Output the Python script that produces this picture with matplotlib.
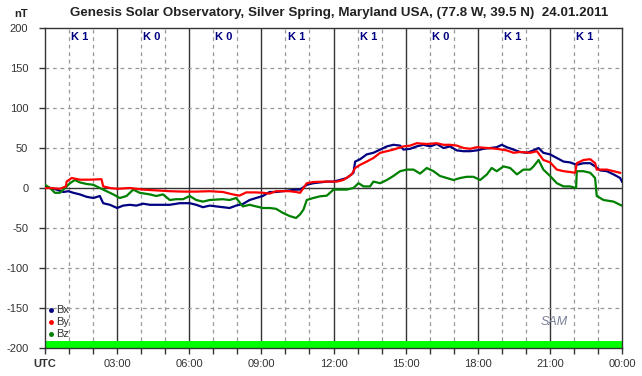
import matplotlib
matplotlib.use("Agg")
import matplotlib.pyplot as plt
import numpy as np

plt.rcParams['font.family'] = ['Liberation Sans', 'DejaVu Sans']

# ---- data (hours UTC, nT) ----
bx_t = [0, 0.21, 0.48, 0.76, 0.97, 1.18, 1.45, 1.73, 2.01, 2.28, 2.42, 2.70, 3.0, 3.25, 3.53, 3.80,
        4.08, 4.36, 4.63, 4.91, 5.19, 5.60, 6.02, 6.29, 6.57, 6.85, 7.12, 7.40, 7.68, 7.95, 8.23,
        8.51, 8.78, 9.06, 9.34, 9.61, 9.89, 10.17, 10.44,
        10.61, 10.89, 11.16, 11.44, 11.72, 12.0, 12.27, 12.55, 12.83, 12.90, 13.11, 13.38, 13.66,
        13.94, 14.22, 14.49, 14.77, 14.91, 15.19, 15.46, 15.74, 16.02, 16.30, 16.57, 16.85, 17.13,
        17.41, 17.68, 17.96, 18.24, 18.52, 18.79, 19.0, 19.21, 19.49, 19.76, 20.04, 20.32, 20.53,
        20.73, 21.01, 21.29, 21.57, 21.84, 22.12, 22.40, 22.68, 22.88, 23.09, 23.37, 23.65, 23.92, 24.0]
bx_v = [2, 0, -2, -5, -4, -6, -8, -11, -12.5, -10, -19, -21, -25, -22, -21, -22,
        -19.6, -21, -21, -21, -21, -19, -19, -21, -24, -22, -23, -24, -25, -22, -20,
        -15, -12.5, -10, -5, -5, -4, -3, -2,
        -2, 4, 6, 7, 8, 8, 10, 12.5, 19, 33, 36, 42, 44,
        48, 52, 54, 53, 48, 49, 52, 54, 52, 55, 50, 52, 47,
        46, 46, 47, 49, 50, 51, 54, 51, 48, 45, 44, 47, 50,
        44, 42, 37.5, 33, 32, 29, 31, 31, 27, 22, 21, 17, 12.5, 8]

by_t = [0, 0.21, 0.62, 0.87, 0.90, 1.11, 1.45, 1.87, 2.35, 2.42, 2.70, 3.0, 3.53, 4.08, 4.63,
        5.19, 5.74, 6.29, 6.85, 7.40, 7.81, 8.09, 8.37, 8.78, 9.06, 9.34, 9.61, 10.17, 10.44,
        10.61, 10.89, 11.16, 11.72, 12.14, 12.41, 12.76, 12.90, 13.11, 13.38, 13.66, 13.94,
        14.22, 14.49, 14.91, 15.19, 15.46, 15.88, 16.30, 16.57, 16.85, 17.13, 17.41, 17.68,
        17.96, 18.38, 18.79, 19.21, 19.49, 19.76, 20.18, 20.46, 20.73, 21.01, 21.29, 21.57,
        21.84, 22.05, 22.12, 22.40, 22.68, 22.88, 22.95, 23.37, 23.65, 23.92]
by_v = [0, 0, -1, 2, 8, 12.5, 10.4, 10.4, 11, 2, 0, -1, 0, -2, -3,
        -4, -4.5, -4.5, -4, -5, -8, -9.5, -5.5, -5.5, -6, -7, -4, -4, -5,
        -6, 6, 7.5, 8, 8, 10, 17, 25, 29, 33, 37.5, 44,
        46, 48, 52, 53, 56, 55, 56, 54, 54, 53, 50, 49,
        51, 50, 49, 47, 44, 45, 44, 46, 35, 32, 23, 21,
        20, 19, 31, 35, 36, 31, 23, 23, 21, 19]

bz_t = [0, 0.21, 0.41, 0.62, 0.76, 0.90, 1.04, 1.24, 1.45, 1.73, 2.01, 2.28, 2.56, 2.84, 3.11,
        3.39, 3.67, 3.94, 4.36, 4.63, 4.91, 5.19, 5.46, 5.74, 6.02, 6.29, 6.57, 6.85, 7.12,
        7.40, 7.68, 7.95, 8.23, 8.51, 8.78, 9.06, 9.34, 9.61, 9.89, 10.17, 10.44,
        10.61, 10.75, 10.89, 11.16, 11.44, 11.72, 12.0, 12.27, 12.55, 12.83, 13.04, 13.25,
        13.52, 13.66, 13.94, 14.22, 14.49, 14.77, 15.05, 15.33, 15.60, 15.88, 16.16, 16.43,
        16.71, 16.99, 17.27, 17.54, 17.82, 18.10, 18.38, 18.58, 18.79, 19.07, 19.35, 19.63,
        19.90, 20.18, 20.32, 20.53, 20.73, 21.01, 21.29, 21.57, 21.84, 22.09, 22.12, 22.40,
        22.68, 22.88, 22.95, 23.23, 23.65, 23.92, 24.0]
bz_v = [4, 0, -6, -6, -2, 2, 6, 10, 7, 5, 4, 0, -4, -8, -12.5,
        -10, -2, -6, -8, -10, -8, -15, -14, -14, -10, -15, -17, -15, -14.5,
        -14, -15, -12.5, -23, -21, -23, -25, -25, -26, -31, -35, -37.5,
        -33, -27, -15, -12.5, -10.4, -9.6, -2, -2, -2, 0, 6, 2,
        2, 8, 6, 10, 15, 21, 23, 23, 18, 25, 21, 15,
        12.5, 10, 12.5, 14, 14, 10, 17, 25, 21, 27, 25, 17,
        23, 23, 27, 35, 23, 15, 6, 2, 2, 0, 21, 21,
        19, 12.5, -10, -15, -17, -21, -22]

k_index = [1, 0, 0, 1, 1, 0, 1, 1]
x_ticklabels = ['UTC', '03:00', '06:00', '09:00', '12:00', '15:00', '18:00', '21:00', '00:00']
title = 'Genesis Solar Observatory, Silver Spring, Maryland USA, (77.8 W, 39.5 N)  24.01.2011'

# ---- figure ----
fig = plt.figure(figsize=(6.42, 3.76), dpi=100)
ax = fig.add_axes([45/642, 28/376, 577/642, 320/376])
ax.set_xlim(0, 24)
ax.set_ylim(-200, 200)

# grid
for h in range(1, 24):
    if h % 3 == 0:
        ax.axvline(h, color='#333333', lw=1.0, zorder=1)
    else:
        ax.axvline(h, color='#999999', lw=0.9, ls=(0, (3, 3)), zorder=1)
for v in range(-150, 200, 50):
    if v == 0:
        ax.axhline(v, color='#333333', lw=1.0, zorder=1)
    else:
        ax.axhline(v, color='#999999', lw=0.9, ls=(0, (3, 3)), zorder=1)

ax.axhspan(-200, -191, color='#00ff00', lw=0, zorder=2)

ax.plot(bx_t, bx_v, color='#000080', lw=1.6, zorder=3)
ax.plot(bz_t, bz_v, color='#008000', lw=1.6, zorder=4)
ax.plot(by_t, by_v, color='#ff0000', lw=1.6, zorder=5)

# K index labels
for i, k in enumerate(k_index):
    ax.text(3*i + 1.45, 189, f'K {k}', color='#000080', fontsize=8, fontweight='bold',
            ha='center', va='center', zorder=6)

# ticks
ax.set_yticks(range(-200, 201, 50))
ax.set_yticklabels([str(v) for v in range(-200, 201, 50)], fontsize=8, color='#333333')
ax.set_xticks(range(0, 25, 3))
ax.set_xticks(range(0, 25, 1), minor=True)
ax.set_xticklabels(x_ticklabels, fontsize=8, color='#333333')
ax.get_xticklabels()[0].set_fontweight('bold')
ax.tick_params(axis='x', which='both', length=4, width=1, color='#333333', pad=4)
ax.tick_params(axis='y', length=4, width=1, color='#333333', pad=8)
for s in ax.spines.values():
    s.set_color('#333333')
    s.set_linewidth(1.0)

# legend
for i, (name, col) in enumerate([('Bx', '#000080'), ('By', '#ff0000'), ('Bz', '#008000')]):
    y = -152 - i * 15.5
    ax.plot([0.25], [y], marker='o', ms=2.5, color=col, zorder=6)
    ax.text(0.45, y, name, fontsize=8, color='#333333', va='center', ha='left', zorder=6)

# logo text
ax.text(21.2, -168, 'SAM', fontsize=9, fontstyle='italic', color='#7a7f95', ha='center',
        va='center', zorder=6)

fig.text(339/642, 1 - 13/376, title, ha='center', va='center', fontsize=9.6,
         fontweight='bold', color='#222222')
fig.text(21/642, 1 - 14/376, 'nT', ha='center', va='center', fontsize=8,
         fontweight='bold', color='#222222')

fig.savefig('out.png', dpi=100, facecolor='white')
